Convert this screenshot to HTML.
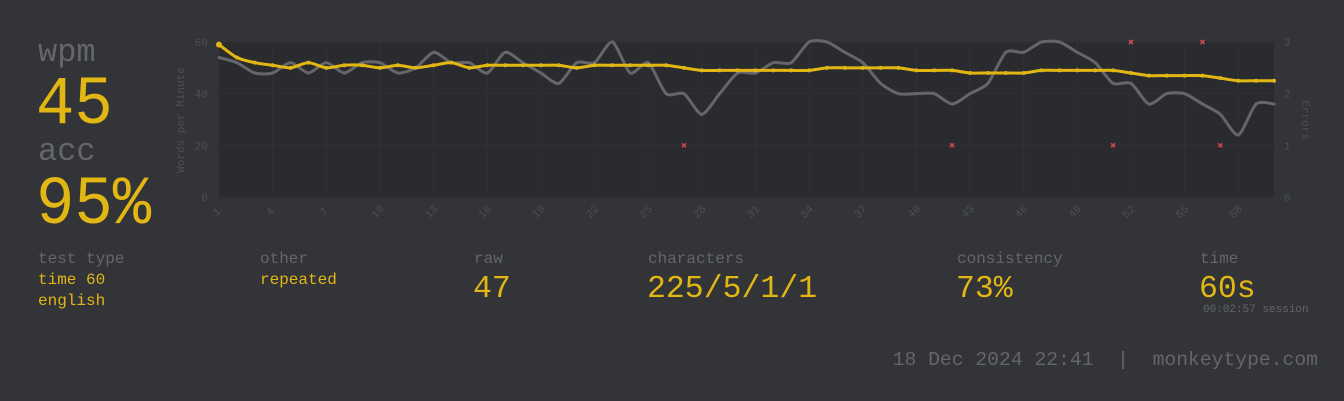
<!DOCTYPE html>
<html><head><meta charset="utf-8"><style>
html,body{margin:0;padding:0;background:#323437;width:1344px;height:401px;overflow:hidden}
svg{display:block}
text{font-family:"Liberation Mono",monospace;white-space:pre}
</style></head><body>
<svg width="1344" height="401" viewBox="0 0 1344 401">
<rect x="0" y="0" width="1344" height="401" fill="#323437"/>
<text x="38" y="61" font-size="32" fill="#646669">wpm</text>
<text x="36" y="123" font-size="64" fill="#e2b714" transform="translate(0,-10) scale(1,1.08)">45</text>
<text x="38" y="160" font-size="32" fill="#646669">acc</text>
<text x="36" y="223" font-size="64" fill="#e2b714" transform="translate(0,-18) scale(1,1.08)">95%</text>

<text x="38" y="263" font-size="16" fill="#646669">test type</text>
<text x="38" y="284" font-size="16" fill="#e2b714">time 60</text>
<text x="38" y="305" font-size="16" fill="#e2b714">english</text>
<text x="260" y="263" font-size="16" fill="#646669">other</text>
<text x="260" y="284" font-size="16" fill="#e2b714">repeated</text>
<text x="474" y="263" font-size="16" fill="#646669">raw</text>
<text x="473" y="297" font-size="31.5" fill="#e2b714">47</text>
<text x="648" y="263" font-size="16" fill="#646669">characters</text>
<text x="647" y="297" font-size="31.5" fill="#e2b714">225/5/1/1</text>
<text x="957" y="263" font-size="16" fill="#646669">consistency</text>
<text x="956" y="297" font-size="31.5" fill="#e2b714">73%</text>
<text x="1200" y="263" font-size="16" fill="#646669">time</text>
<text x="1199" y="297" font-size="31.5" fill="#e2b714">60s</text>
<text x="1203" y="312" font-size="11" fill="#646669">00:02:57 session</text>
<text x="1318" y="365" font-size="19.7" fill="#646669" text-anchor="end" xml:space="preserve">18 Dec 2024 22:41  |  monkeytype.com</text>

<g id="chart"></g>
</svg>
<script>
const labels = Array.from({length:60},(_,i)=>i+1);
const wpmValues = [59,54,52,51,50,52,50,51,51,50,51,50,51,52,50,51,51,51,51,51,50,51,51,51,51,51,50,49,49,49,49,49,49,49,50,50,50,50,50,49,49,49,48,48,48,48,49,49,49,49,49,48,47,47,47,47,46,45,45,45];
const rawValues = [54,52,48,48,52,48,52,48,52,52,48,50,56,52,52,48,56,52,48,44,52,52,60,48,52,40,40,32,40,48,48,52,52,60,60,56,52,44,40,40,40,36,40,44,56,56,60,60,56,52,44,44,36,40,40,36,32,24,36,36];
const errorSeconds = [27,42,51,52,56,57];
const errorCounts = [1,1,1,3,3,1];
const wpmTicks = [0,20,40,60];
const errTicks = [0,1,2,3];

const NS="http://www.w3.org/2000/svg";
const g=document.getElementById('chart');
const X0=219,X1=1274,Y0=197,Y1=42;
const xs=i=>X0+(i-1)*(X1-X0)/59;
const yw=v=>Y0-(v/60)*(Y0-Y1);
const ye=v=>Y0-(v/3)*(Y0-Y1);
function mk(tag,attrs,parent){const e=document.createElementNS(NS,tag);for(const k in attrs)e.setAttribute(k,attrs[k]);(parent||g).appendChild(e);return e;}

const bg=mk('rect',{x:X0,y:Y1,width:X1-X0,height:Y0-Y1,fill:'#2a2b2e'});


wpmTicks.forEach(t=>{
  const l=mk('line',{x1:X0,x2:X1,y1:yw(t),y2:yw(t),stroke:'#2f3134','stroke-width':1});
  
  
  const tx=mk('text',{x:208,y:yw(t)+4,'font-size':11,fill:'#4d4f52','text-anchor':'end'});
  tx.textContent=t;
  
  
});
errTicks.forEach(t=>{
  const tx=mk('text',{x:1284,y:ye(t)+4,'font-size':11,fill:'#4d4f52'});
  tx.textContent=t;
  
  
});
labels.forEach(l=>{
  if((l-1)%3!==0)return;
  const vl=mk('line',{x1:xs(l),x2:xs(l),y1:Y1,y2:Y0+4,stroke:'#2f3134','stroke-width':1});
  
  
  const tx=mk('text',{x:0,y:0,'font-size':11,fill:'#4d4f52','text-anchor':'middle',transform:`translate(${xs(l)},${214}) rotate(-45)`});
  tx.textContent=l;
  
  
});
const yt=mk('text',{x:0,y:0,'font-size':11,fill:'#4d4f52','text-anchor':'middle',transform:'translate(184,120) rotate(-90)'});
yt.textContent='Words per Minute';


const et=mk('text',{x:0,y:0,'font-size':11,fill:'#4d4f52','text-anchor':'middle',transform:'translate(1302,120) rotate(90)'});
et.textContent='Errors';



function smoothPath(vals,fy){
  const p=vals.map((v,i)=>[xs(i+1),fy(v)]);
  let d=`M${p[0][0]},${p[0][1]}`;
  const t=0.12;
  for(let i=0;i<p.length-1;i++){
    const p0=p[i-1]||p[i],p1=p[i],p2=p[i+1],p3=p[i+2]||p2;
    d+=` C${p1[0]+(p2[0]-p0[0])*t},${p1[1]+(p2[1]-p0[1])*t} ${p2[0]-(p3[0]-p1[0])*t},${p2[1]-(p3[1]-p1[1])*t} ${p2[0]},${p2[1]}`;
  }
  return d;
}
const raw=mk('path',{d:smoothPath(rawValues,yw),fill:'none',stroke:'#646669','stroke-width':3});


rawValues.forEach((v,i)=>{
  const c=mk('circle',{cx:xs(i+1),cy:yw(v),r:1.5,fill:'#646669'});
  
  
});
const wl=mk('path',{d:smoothPath(wpmValues,yw),fill:'none',stroke:'#e2b714','stroke-width':3});


wpmValues.forEach((v,i)=>{
  const c=mk('circle',{cx:xs(i+1),cy:yw(v),r:i===0?3:2,fill:'#e2b714'});
  
  
});
errorSeconds.forEach((s,i)=>{
  const x=xs(s),y=ye(errorCounts[i]);
  const e=mk('path',{d:`M${x-2},${y-2}L${x+2},${y+2}M${x+2},${y-2}L${x-2},${y+2}`,stroke:'#ca4754','stroke-width':1.6});
  
  
});
</script>
</body></html>
